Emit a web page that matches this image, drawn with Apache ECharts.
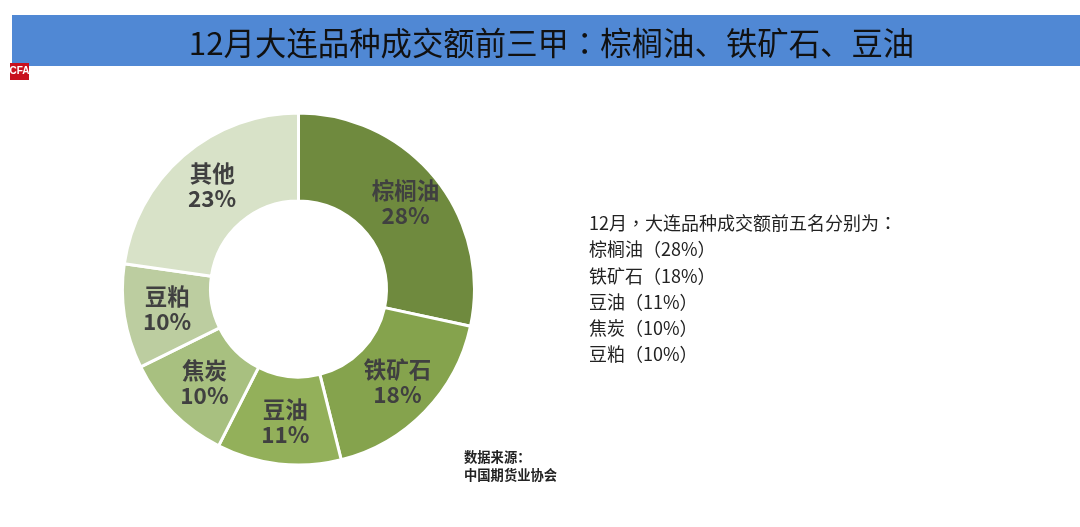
<!DOCTYPE html>
<html>
<head>
<meta charset="utf-8">
<style>
  html, body { margin: 0; padding: 0; background: #fff; }
  #main { width: 1080px; height: 527px; }
</style>
<script src="https://cdn.jsdelivr.net/npm/echarts@6/dist/echarts.min.js"></script>
</head>
<body>
<div id="main"></div>
<script>
var categories = ['棕榈油', '铁矿石', '豆油', '焦炭', '豆粕', '其他'];
// slice sizes, printed labels are the rounded ones
var shares = [28.4, 17.7, 11.4, 10.2, 9.6, 22.7];
var sliceColors = ['#6f8a3e', '#85a34d', '#93b05a', '#a8c080', '#bccda0', '#d8e2c8'];
var titleText = '12月大连品种成交额前三甲：棕榈油、铁矿石、豆油';
var noteHead = '12月，大连品种成交额前五名分别为：';
var sourceLines = ['数据来源：', '中国期货业协会'];
var FONT = '"Noto Sans CJK SC", sans-serif';
var FONT_TC = '"Noto Sans CJK TC", sans-serif'; // centred ，：

var chart = echarts.init(document.getElementById('main'), null, { renderer: 'canvas' });

var data = categories.map(function (name, i) {
  return { name: name, value: shares[i], itemStyle: { color: sliceColors[i] } };
});

function punct(text) {
  return text.replace(/[，：]/g, '{p|$&}');
}

// right hand note: heading + top five
var noteLines = [punct(noteHead)];
for (var i = 0; i < 5; i++) {
  noteLines.push(categories[i] + '（' + Math.round(shares[i]) + '%）');
}

var option = {
  animation: false,
  backgroundColor: '#ffffff',
  graphic: [
    { type: 'rect', z: 0, shape: { x: 12, y: 15, width: 1068, height: 51 }, style: { fill: '#5088d4' } },
    { type: 'text', z: 1, x: 551.5, y: 43,
      style: {
        text: punct(titleText), font: '31.4px ' + FONT, fill: '#111', align: 'center', verticalAlign: 'middle',
        rich: { p: { fontFamily: FONT_TC, fontSize: 31.4, fill: '#111' } }
      } },
    { type: 'rect', z: 2, shape: { x: 10, y: 63, width: 19, height: 17 }, style: { fill: '#c8101e' } },
    { type: 'text', z: 3, x: 19.5, y: 71.5,
      style: { text: 'CFA', font: 'bold 10px "Liberation Sans Narrow", sans-serif', fill: '#fff', align: 'center', verticalAlign: 'middle' } },
    { type: 'text', x: 589, y: 210,
      style: {
        text: noteLines.join('\n'), font: '18px ' + FONT, lineHeight: 26.3, fill: '#222',
        rich: { p: { fontFamily: FONT_TC, fontSize: 18, lineHeight: 26.3, fill: '#222' } }
      } },
    { type: 'text', x: 464, y: 448,
      style: { text: sourceLines.join('\n'), font: 'bold 13.3px ' + FONT, lineHeight: 18, fill: '#222' } }
  ],
  series: [
    {
      type: 'pie',
      center: [298.5, 289],
      radius: [88, 176],
      startAngle: 90,
      clockwise: true,
      silent: true,
      itemStyle: { borderColor: '#ffffff', borderWidth: 3 },
      label: {
        show: true,
        position: 'inside',
        offset: [2, -1],
        formatter: function (p) {
          return p.name + '\n' + Math.round(p.value) + '%';
        },
        color: '#404040',
        fontFamily: FONT,
        fontWeight: 'bold',
        fontSize: 22.5,
        lineHeight: 25
      },
      labelLine: { show: false },
      data: data
    }
  ]
};

chart.setOption(option);
</script>
</body>
</html>
